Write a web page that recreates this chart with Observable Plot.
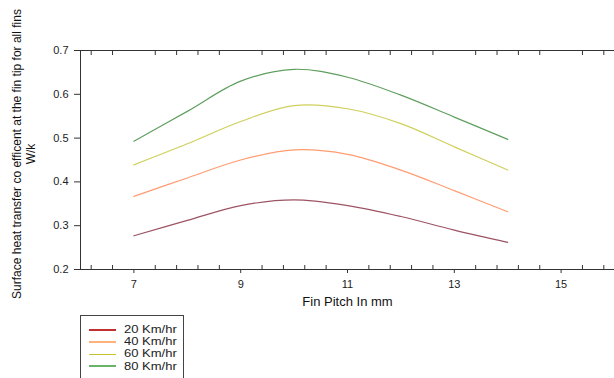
<!DOCTYPE html>
<html>
<head>
<meta charset="utf-8">
<script src="https://cdn.jsdelivr.net/npm/d3@7"></script>
<script src="https://cdn.jsdelivr.net/npm/@observablehq/plot@0.6"></script>
<style>
  html, body { margin: 0; padding: 0; background: #fff; }
  body { width: 614px; height: 378px; position: relative; overflow: hidden; font-family: "Liberation Sans", Arial, sans-serif; }
  #legend { position: absolute; left: 80px; top: 315px; width: 104px; height: 80px; border: 1px solid #444; box-sizing: border-box; }
  .item { position: absolute; left: 8px; height: 12px; font-size: 10px; color: #222; line-height: 12px; }
  .sw { position: absolute; left: 0; top: 6px; width: 27px; }
  .lbl { position: absolute; left: 35px; top: 0; white-space: nowrap; transform: scaleX(1.3); transform-origin: left center; }
</style>
</head>
<body>
<div id="chart"></div>
<div id="legend"></div>
<script>
const pitch = [7, 8, 9, 10, 11, 12, 13, 14];
const v20 = [0.277, 0.312, 0.346, 0.359, 0.346, 0.321, 0.290, 0.262];
const v40 = [0.367, 0.409, 0.450, 0.473, 0.463, 0.427, 0.380, 0.332];
const v60 = [0.439, 0.487, 0.538, 0.574, 0.567, 0.533, 0.480, 0.427];
const v80 = [0.493, 0.561, 0.630, 0.657, 0.639, 0.598, 0.548, 0.497];
const seriesNames = ["20 Km/hr", "40 Km/hr", "60 Km/hr", "80 Km/hr"];
const lineColors = ["#9c5363", "#ff9c72", "#cfcf5c", "#5f9f5f"];
const legendColors = ["#c03030", "#ffb27c", "#c4c428", "#6ab46a"];
const legendWidths = [2, 2.5, 1.5, 2.5];
const xMajor = [7, 9, 11, 13, 15];
const xMinor = [6.2, 6.6, 7.4, 7.8, 8.2, 8.6, 9.4, 9.8, 10.2, 10.6, 11.4, 11.8, 12.2, 12.6, 13.4, 13.8, 14.2, 14.6, 15.4, 15.8];
const yTicks = [0.2, 0.3, 0.4, 0.5, 0.6, 0.7];
const xTitle = "Fin Pitch In mm";
const yTitle = "Surface heat transfer co efficent at the fin tip for all fins\nW/k";

const allSeries = [v20, v40, v60, v80];
const rows = [];
allSeries.forEach((vals, i) => vals.forEach((v, j) => rows.push({series: seriesNames[i], x: pitch[j], y: v})));

const chart = Plot.plot({
  width: 614,
  height: 312,
  marginLeft: 80,
  marginRight: 0,
  marginTop: 50,
  marginBottom: 43,
  style: {fontFamily: "'Liberation Sans', Arial, sans-serif", fontSize: "11px", color: "#222", background: "#fff", overflow: "visible"},
  x: {domain: [6, 16]},
  y: {domain: [0.2, 0.7]},
  color: {domain: seriesNames, range: lineColors},
  marks: [
    Plot.ruleY([0.2, 0.7], {stroke: "#333", strokeWidth: 1}),
    Plot.ruleX([6], {stroke: "#333", strokeWidth: 1}),
    Plot.axisX(xMinor, {anchor: "bottom", tickSize: -4, tickFormat: () => "", label: null, stroke: "#333"}),
    Plot.axisX(xMinor, {anchor: "top", tickSize: -4, tickFormat: () => "", label: null, stroke: "#333"}),
    Plot.axisX(xMajor, {anchor: "bottom", tickSize: 4, tickPadding: 7, label: null, stroke: "#333", fill: "#222", fontSize: 11}),
    Plot.axisY(yTicks, {anchor: "left", tickSize: 6, tickPadding: 6, tickFormat: d3.format(".1f"), label: null, stroke: "#333", fill: "#222", fontSize: 11}),
    Plot.line(rows, {x: "x", y: "y", z: "series", stroke: "series", strokeWidth: 1.2, curve: "catmull-rom"}),
    Plot.text([xTitle], {frameAnchor: "bottom", dy: 36, text: d => d, fontSize: 13, fill: "#111"}),
    Plot.text([yTitle], {frameAnchor: "left", textAnchor: "middle", lineAnchor: "middle", dx: -57, dy: -6, text: d => d, rotate: -90, fontSize: 12, fill: "#111", lineHeight: 1.15})
  ]
});
document.getElementById("chart").appendChild(chart);

const legend = document.getElementById("legend");
seriesNames.forEach((name, i) => {
  const item = document.createElement("div");
  item.className = "item";
  item.style.top = (8 + i * 12.2) + "px";
  const sw = document.createElement("div");
  sw.className = "sw";
  sw.style.borderTop = legendWidths[i] + "px solid " + legendColors[i];
  sw.style.top = (6 - legendWidths[i] / 2) + "px";
  const lbl = document.createElement("div");
  lbl.className = "lbl";
  lbl.textContent = name;
  item.appendChild(sw);
  item.appendChild(lbl);
  legend.appendChild(item);
});
</script>
</body>
</html>
